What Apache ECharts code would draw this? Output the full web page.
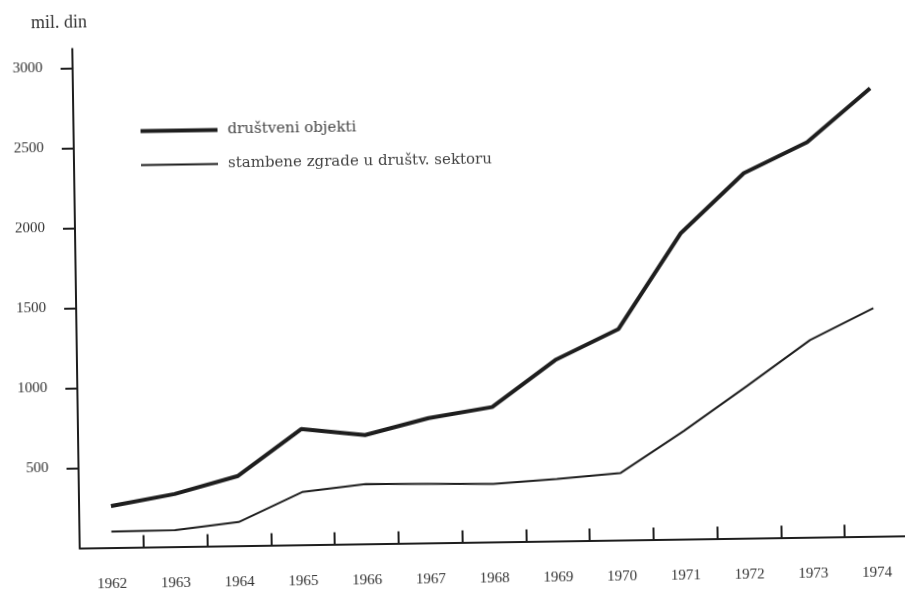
<!DOCTYPE html>
<html>
<head>
<meta charset="utf-8">
<script src="https://cdn.jsdelivr.net/npm/echarts@6/dist/echarts.min.js"></script>
<style>
html,body{margin:0;padding:0;background:#fff;overflow:hidden;}
#chart{width:905px;height:591px;transform:rotate(-0.85deg);transform-origin:50% 50%;}
</style>
</head>
<body>
<div id="chart"></div>
<script>
var years = ['1962','1963','1964','1965','1966','1967','1968','1969','1970','1971','1972','1973','1974'];
var drustveniObjekti = [259, 329, 436, 723, 680, 780, 843, 1131, 1319, 1913, 2281, 2469, 2800];
var stambeneZgrade = [100, 103, 148, 329, 374, 368, 362, 387, 419, 676, 951, 1232, 1426];
var yTicks = [500, 1000, 1500, 2000, 2500, 3000];
var seriesNames = ['društveni objekti', 'stambene zgrade u društv. sektoru'];
var unitLabel = 'mil. din';

var ink = '#1e1e1e';
var serif = 'Liberation Serif';
var chart = echarts.init(document.getElementById('chart'));
chart.setOption({
  animation: false,
  backgroundColor: '#fff',
  title: {
    text: unitLabel, left: 30, top: 3,
    textStyle: {fontFamily: serif, fontSize: 18, fontWeight: 'normal', color: '#333'}
  },
  legend: {
    orient: 'vertical', left: 138, top: 114,
    itemWidth: 77, itemHeight: 14, itemGap: 19,
    data: [
      {name: seriesNames[0], icon: 'path://M0,0 L77,0 L77,4 L0,4 Z'},
      {name: seriesNames[1], icon: 'path://M0,0 L77,0 L77,2 L0,2 Z'}
    ],
    textStyle: {fontFamily: 'DejaVu Serif', fontSize: 15, color: '#444', padding: [0,0,0,5]}
  },
  grid: {left: 76, right: 0, top: 62.5, bottom: 48.5, containLabel: false},
  xAxis: {
    type: 'category', data: years, boundaryGap: true,
    axisLine: {show: true, lineStyle: {color: ink, width: 2}},
    axisTick: {show: true, interval: 0, inside: true, length: 12, lineStyle: {color: ink, width: 2}},
    axisLabel: {margin: 29, interval: 0, fontFamily: serif, fontSize: 15, color: '#333'},
    splitLine: {show: false}
  },
  yAxis: {
    type: 'value', min: 0, max: 3000, interval: 500,
    axisLine: {show: true, symbol: ['none', 'rect'], symbolSize: [2, 40], symbolOffset: [0, 0],
      lineStyle: {color: ink, width: 2}},
    axisTick: {show: true, interval: 0, length: 12, lineStyle: {color: ink, width: 2}},
    axisLabel: {margin: 30, showMinLabel: false, fontFamily: serif, fontSize: 15, color: '#333',
      formatter: function (v) { return yTicks.indexOf(v) >= 0 ? String(v) : ''; }},
    splitLine: {show: false}
  },
  series: [
    {name: seriesNames[0], type: 'line', data: drustveniObjekti, symbol: 'none',
     lineStyle: {color: ink, width: 4}, itemStyle: {color: ink}},
    {name: seriesNames[1], type: 'line', data: stambeneZgrade, symbol: 'none',
     lineStyle: {color: ink, width: 2}, itemStyle: {color: ink}}
  ]
});
</script>
</body>
</html>
